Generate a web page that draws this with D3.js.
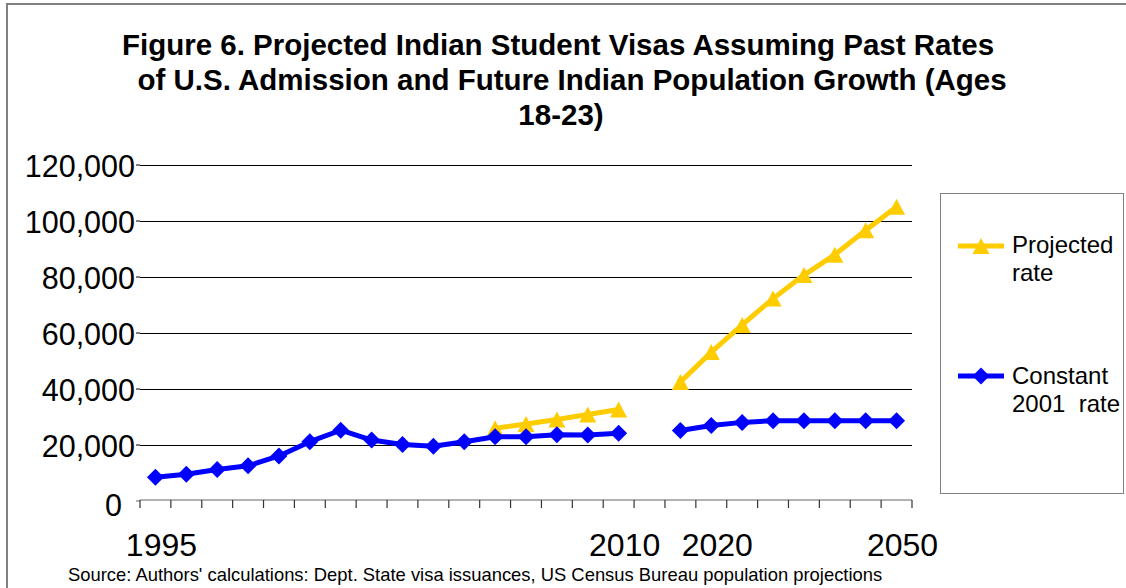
<!DOCTYPE html>
<html>
<head>
<meta charset="utf-8">
<script src="https://cdn.jsdelivr.net/npm/d3@7"></script>
<style>
  html, body { margin: 0; padding: 0; background: #fff; }
  svg { display: block; font-family: "Liberation Sans", Arial, sans-serif; }
  text { white-space: pre; }
</style>
</head>
<body>
<svg id="chart" width="1126" height="588"></svg>
<script>
// ---- data ----
const categories = ["1995","1996","1997","1998","1999","2000","2001","2002","2003","2004",
  "2005","2006","2007","2008","2009","2010"," ","2015","2020","2025","2030","2035","2040","2045","2050"];
const shownLabels = ["1995","2010","2020","2050"];
const constantRate = [8300, 9400, 11100, 12400, 15900, 21000, 25100, 21600, 20000, 19400,
  21000, 22800, 22800, 23500, 23400, 24000, null, 25000, 26800, 27900, 28500, 28500, 28500, 28500, 28500];
const projectedRate = [null, null, null, null, null, null, null, null, null, null,
  null, 25800, 27300, 28900, 30700, 32500, null, 42300, 53000, 62700, 72100, 80500, 87800, 96500, 104900];
const yTicks = [0, 20000, 40000, 60000, 80000, 100000, 120000];
const titleLines = ["Figure 6. Projected Indian Student Visas Assuming Past Rates",
  " of U.S. Admission and Future Indian Population Growth (Ages",
  "18-23)"];
const seriesNames = [["Projected", "rate"], ["Constant", "2001  rate"]];
const sourceText = "Source: Authors' calculations: Dept. State visa issuances, US Census Bureau population projections";

// ---- layout ----
const svg = d3.select("#chart");
const W = 1126, H = 588;
const plot = { left: 140, right: 912, top: 164.5, bottom: 500.5 };
const yellow = "#FFCC00", blue = "#0000FF";

svg.append("rect").attr("width", W).attr("height", H).attr("fill", "#fff");
// chart frame (right/bottom cut off)
svg.append("rect").attr("x", 7).attr("y", 4).attr("width", W + 20).attr("height", H + 20)
  .attr("fill", "none").attr("stroke", "#808080").attr("stroke-width", 2);

const x = d3.scaleBand().domain(categories).range([plot.left, plot.right]).padding(0);
const y = d3.scaleLinear().domain([0, 120000]).range([plot.bottom, plot.top]);

// gridlines
svg.append("g").selectAll("line").data(yTicks.filter(d => d > 0)).join("line")
  .attr("x1", plot.left).attr("x2", plot.right)
  .attr("y1", d => Math.round(y(d)) + 0.5).attr("y2", d => Math.round(y(d)) + 0.5)
  .attr("stroke", "#000").attr("stroke-width", 1);

// y axis
const yAxis = svg.append("g").attr("transform", `translate(${plot.left},0)`)
  .call(d3.axisLeft(y).tickValues(yTicks).tickSize(4).tickPadding(1)
    .tickFormat(d => d3.format(",")(d)));
yAxis.select(".domain").remove();
yAxis.selectAll(".tick line").attr("stroke", "#000");
yAxis.selectAll(".tick text").attr("font-size", 30.5).attr("font-family", "Liberation Sans, Arial, sans-serif")
  .attr("fill", "#000").attr("dy", "0.4em");
yAxis.selectAll(".tick").filter(d => d === 0).select("text").attr("dx", -13).attr("dy", "0.5em");
yAxis.selectAll(".tick").filter(d => d === 0).select("line").attr("stroke", "#666");

// x axis
const xAxisG = svg.append("g").attr("transform", `translate(0,${plot.bottom - 0.5})`);
xAxisG.append("line").attr("x1", plot.left).attr("x2", plot.right).attr("y1", 0).attr("y2", 0)
  .attr("stroke", "#666").attr("stroke-width", 1.2);
const boundaries = categories.map(c => x(c)).concat([x(categories[categories.length - 1]) + x.bandwidth()]);
xAxisG.selectAll("line.tk").data(boundaries).join("line").attr("class", "tk")
  .attr("x1", d => d).attr("x2", d => d).attr("y1", 0).attr("y2", 8)
  .attr("stroke", "#333").attr("stroke-width", 1.2);
xAxisG.selectAll("text").data(categories.filter(c => shownLabels.includes(c))).join("text")
  .attr("x", d => x(d) + x.bandwidth() / 2 + 6).attr("y", 56)
  .attr("text-anchor", "middle").attr("font-size", 32).attr("fill", "#000").text(d => d);

// lines
const line = d3.line().defined(d => d.v != null)
  .x(d => x(d.c) + x.bandwidth() / 2).y(d => y(d.v));
const triangle = "M0,-8 L8.5,8 L-8.5,8 Z";
const diamond = "M0,-8.5 L8.5,0 L0,8.5 L-8.5,0 Z";

function drawSeries(values, color, shape) {
  const data = categories.map((c, i) => ({ c, v: values[i] }));
  svg.append("path").datum(data).attr("d", line).attr("fill", "none")
    .attr("stroke", color).attr("stroke-width", 5).attr("stroke-linejoin", "round");
  svg.append("g").selectAll("path").data(data.filter(d => d.v != null)).join("path")
    .attr("d", shape).attr("fill", color)
    .attr("transform", d => `translate(${x(d.c) + x.bandwidth() / 2},${y(d.v)})`);
}
drawSeries(projectedRate, yellow, triangle);
drawSeries(constantRate, blue, diamond);

// title
const titleX = [558, 568, 561];
svg.append("g").selectAll("text").data(titleLines).join("text")
  .attr("x", (d, i) => titleX[i]).attr("y", (d, i) => 55 + i * 35)
  .attr("text-anchor", "middle").attr("font-weight", "bold").attr("font-size", 29.5)
  .attr("fill", "#000").text(d => d);

// legend
const lg = svg.append("g");
lg.append("rect").attr("x", 940.5).attr("y", 193.5).attr("width", 183).attr("height", 300)
  .attr("fill", "#fff").attr("stroke", "#808080").attr("stroke-width", 1);
const legendItems = [
  { color: yellow, shape: triangle, y: 246, names: seriesNames[0], ty: 253 },
  { color: blue, shape: diamond, y: 376, names: seriesNames[1], ty: 384 }
];
legendItems.forEach(it => {
  lg.append("line").attr("x1", 958).attr("x2", 1004).attr("y1", it.y).attr("y2", it.y)
    .attr("stroke", it.color).attr("stroke-width", 5);
  lg.append("path").attr("d", it.shape).attr("fill", it.color)
    .attr("transform", `translate(981,${it.y})`);
  it.names.forEach((n, j) => {
    lg.append("text").attr("x", 1012).attr("y", it.ty + j * 28).attr("font-size", 24)
      .attr("fill", "#000").text(n);
  });
});

// source
svg.append("text").attr("x", 68).attr("y", 581).attr("font-size", 18.4).attr("fill", "#000").text(sourceText);
</script>
</body>
</html>
